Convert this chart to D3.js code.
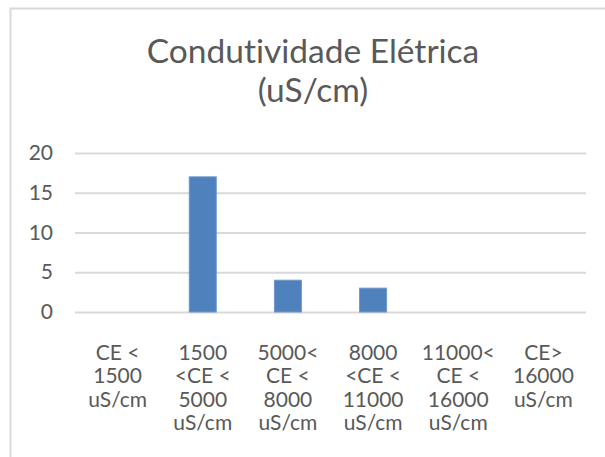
<!DOCTYPE html>
<html>
<head>
<meta charset="utf-8">
<script src="https://cdn.jsdelivr.net/npm/d3@7"></script>
<style>
  html, body { margin: 0; padding: 0; background: #ffffff; }
  svg { display: block; }
  text { font-family: Lato, "Open Sans", sans-serif; fill: #595959; font-variant-ligatures: none; }
</style>
</head>
<body>
<script>
// Chart data
const categories = [
  "CE <\n1500\nuS/cm",
  "1500\n<CE <\n5000\nuS/cm",
  "5000<\nCE <\n8000\nuS/cm",
  "8000\n<CE <\n11000\nuS/cm",
  "11000<\nCE <\n16000\nuS/cm",
  "CE>\n16000\nuS/cm"
];
const values = [0, 17, 4, 3, 0, 0];
const yTicks = [0, 5, 10, 15, 20];
const titleLines = ["Condutividade Elétrica", "(uS/cm)"];

const W = 605, H = 457;
const plot = { left: 75, right: 586, top: 153, bottom: 312 };

const svg = d3.select("body").append("svg")
  .attr("width", W).attr("height", H);

// Chart area frame (top and left edges visible)
svg.append("path")
  .attr("d", `M10.5,${H} L10.5,8.5 L${W},8.5`)
  .attr("fill", "none")
  .attr("stroke", "#d9d9d9")
  .attr("stroke-width", 2);

// Title
svg.append("g").selectAll("text")
  .data(titleLines)
  .join("text")
  .attr("x", 313)
  .attr("y", (d, i) => 63 + i * 39)
  .attr("text-anchor", "middle")
  .style("font-size", "33.5px")
  .text(d => d);

const x = d3.scaleBand()
  .domain(d3.range(categories.length))
  .range([plot.left, plot.right])
  .paddingInner(0.683)
  .paddingOuter(0.3415);

const y = d3.scaleLinear()
  .domain([0, 20])
  .range([plot.bottom, plot.top]);

// Gridlines and y tick labels
const yAxis = d3.axisLeft(y)
  .tickValues(yTicks)
  .tickSize(-(plot.right - plot.left))
  .tickPadding(22);

const gy = svg.append("g")
  .attr("transform", `translate(${plot.left},0)`)
  .call(yAxis);
gy.select(".domain").remove();
gy.selectAll(".tick line")
  .attr("stroke", "#d9d9d9")
  .attr("stroke-width", 2);
gy.selectAll(".tick text")
  .attr("fill", "#595959")
  .style("font-family", "Lato, 'Open Sans', sans-serif")
  .style("font-size", "21px");

// Bars
svg.append("g").selectAll("rect")
  .data(values)
  .join("rect")
  .attr("x", (d, i) => x(i))
  .attr("width", x.bandwidth())
  .attr("y", d => y(d))
  .attr("height", d => y(0) - y(d))
  .attr("fill", "#4f81bd")
  .attr("stroke", "#6f97c8")
  .attr("stroke-width", 1)
  .style("display", d => d > 0 ? null : "none");

// Category labels
const gx = svg.append("g");
categories.forEach((c, i) => {
  const t = gx.append("text")
    .attr("x", x(i) + x.bandwidth() / 2)
    .attr("y", 360)
    .attr("text-anchor", "middle")
    .style("font-size", "21px");
  c.split("\n").forEach((line, j) => {
    t.append("tspan")
      .attr("x", x(i) + x.bandwidth() / 2)
      .attr("y", 360 + j * 23.3)
      .text(line);
  });
});
</script>
</body>
</html>
